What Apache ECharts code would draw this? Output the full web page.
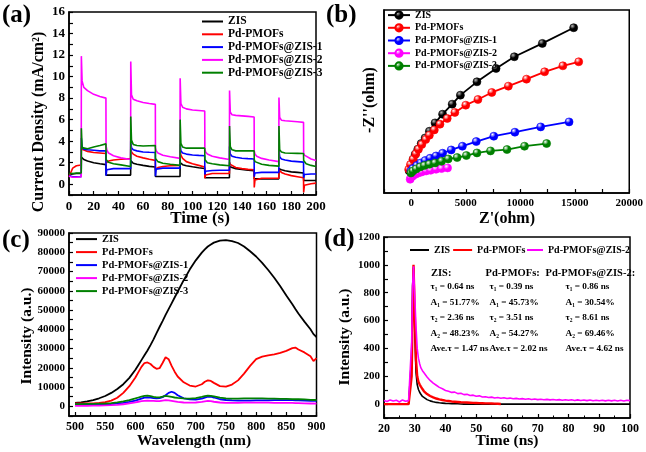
<!DOCTYPE html>
<html><head><meta charset="utf-8">
<script src="https://cdn.jsdelivr.net/npm/echarts@6/dist/echarts.min.js"></script>
<style>html,body{margin:0;padding:0;background:#fff}#c{width:646px;height:452px}</style>
</head><body><div id="c"></div>
<script>
// ---------- Panel (a): transient photocurrent ----------
const aTime = [0,3,6,9.9, 10,10.6,12,15,20,25,29.9, 30,30.6,32,36,42,49.9, 50,50.6,52,55,60,65,69.9, 70,70.6,72,76,82,89.9, 90,90.6,92,95,100,105,109.9, 110,110.6,112,116,122,129.9, 130,130.6,132,135,140,145,149.9, 150,150.6,152,156,162,169.9, 170,170.6,172,175,180,185,189.9, 190,190.6,192,196,200];
const aZIS = [0.9,0.95,1.0,1.0, 2.52,2.4,2.3,2.15,2.0,1.9,1.82, 0.85,0.85,0.85,0.85,0.85,0.85, 2.2,2.05,1.95,1.85,1.75,1.66,1.6, 0.72,0.72,0.72,0.72,0.72,0.72, 2.0,1.9,1.82,1.72,1.62,1.53,1.46, 0.6,0.6,0.6,0.6,0.6,0.6, 1.65,1.6,1.55,1.45,1.38,1.3,1.25, 0.5,0.5,0.5,0.5,0.5,0.5, 1.45,1.4,1.35,1.25,1.15,1.1,1.05, 0.35,0.35,0.35,0.35,0.35];
const aPd = [0.7,1.5,1.72,1.78, 3.5,3.25,3.15,3.05,2.95,2.9,2.85, 1.95,2.05,2.15,2.25,2.32,2.38, 3.3,3.0,2.8,2.6,2.45,2.32,2.22, 1.35,1.45,1.55,1.65,1.72,1.75, 3.1,2.7,2.4,2.1,1.9,1.75,1.6, 0.55,0.85,0.95,1.0,1.0,1.0, 2.05,1.85,1.7,1.55,1.45,1.38,1.35, -0.3,0.4,0.5,0.55,0.55,0.55, 1.35,1.2,1.1,0.95,0.8,0.7,0.6, -0.75,-0.1,0.0,0.05,0.1];
const aZ1 = [0.8,0.7,0.7,0.7, 4.3,3.5,3.25,3.2,3.15,3.1,3.1, 0.8,1.35,1.42,1.45,1.45,1.45, 4.0,3.4,3.2,3.1,3.0,2.97,2.95, 0.75,1.4,1.45,1.5,1.5,1.5, 3.7,3.1,2.9,2.8,2.72,2.68,2.65, 0.9,1.2,1.25,1.28,1.3,1.3, 3.5,2.8,2.6,2.5,2.42,2.38,2.35, 0.7,1.05,1.1,1.1,1.1,1.1, 3.3,2.55,2.35,2.25,2.15,2.1,2.05, 0.6,0.9,0.95,0.95,0.95];
const aZ2 = [0.75,0.65,0.65,0.7, 11.9,9.6,9.0,8.7,8.35,8.15,8.0, 3.6,3.2,2.9,2.65,2.45,2.3, 11.4,8.3,7.9,7.75,7.6,7.5,7.42, 3.4,3.1,2.9,2.7,2.55,2.4, 9.85,7.5,7.15,7.0,6.9,6.85,6.8, 3.3,3.0,2.8,2.6,2.45,2.3, 8.7,6.7,6.45,6.4,6.35,6.3,6.25, 3.1,2.8,2.6,2.4,2.25,2.1, 8.05,6.2,5.95,5.9,5.85,5.8,5.75, 2.9,2.7,2.55,2.35,2.2];
const aZ3 = [1.0,1.0,1.05,1.05, 5.2,3.4,3.25,3.3,3.45,3.6,3.75, 2.3,2.2,2.05,1.9,1.8,1.65, 6.3,4.1,3.7,3.6,3.55,3.58,3.6, 2.4,2.25,2.1,1.95,1.85,1.75, 6.0,3.8,3.45,3.35,3.35,3.35,3.35, 2.3,2.15,2.0,1.9,1.8,1.72, 5.4,3.5,3.2,3.1,3.1,3.1,3.1, 2.3,2.1,1.95,1.85,1.75,1.68, 5.4,3.2,3.0,2.9,2.88,2.87,2.85, 2.2,2.05,1.9,1.75,1.65];

// ---------- Panel (b): Nyquist plots ----------
const bZisX = [-200,0,173,364,600,909,1273,1664,2182,2873,3755,4509,6027,7782,9455,12027,14900];
const bZisY = [1950,2513,2950,3390,3826,4325,4816,5400,6130,6890,7767,8555,9720,10890,11910,13080,14450];
const bPdX = [-230,-70,173,420,660,970,1330,1664,2118,2636,3300,4000,5000,6118,7391,8909,10573,12236,13909,15364];
const bPdY = [2075,2487,2950,3415,3826,4238,4676,5050,5517,6015,6515,7040,7680,8175,8790,9343,9956,10595,11120,11470];
const bZ1X = [-36,145,509,873,1273,1727,2273,2873,3664,4691,5964,7573,9509,11873,14480];
const bZ1Y = [1926,2136,2400,2627,2837,3039,3240,3476,3765,4090,4500,4965,5315,5780,6217];
const bZ2X = [-100,-36,145,391,664,964,1364,1782,2273,2782,3330];
const bZ2Y = [1200,1349,1489,1637,1751,1840,1926,1988,2075,2136,2190];
const bZ3X = [-27,155,455,818,1209,1664,2182,2782,3391,4209,5055,6027,7273,8782,10391,12418];
const bZ3Y = [1751,1926,2102,2277,2400,2513,2627,2776,2977,3100,3275,3503,3678,3800,4090,4326];

// ---------- Panel (c): PL spectra ----------
const cWl = [500,510,520,530,540,550,560,570,580,590,600,605,610,615,620,625,630,635,640,645,650,655,660,665,670,680,690,700,710,715,720,725,730,740,750,760,770,780,790,800,810,820,830,840,850,860,865,870,880,890,895,900];
const cZIS = [1800,2100,2600,3300,4200,5400,7000,9000,11500,14800,19000,21500,24000,26500,29000,31800,34800,38000,41200,44300,47500,50500,53500,56500,59500,65500,71000,75800,79800,81500,83000,84000,85000,86000,86300,85800,84800,83000,80500,77800,74500,70800,66800,62300,57500,53000,50500,48200,44000,40000,37500,36000];
const cPd = [1500,1500,1500,1600,1800,2200,3000,4500,7000,10500,15000,17800,20500,22500,22800,22000,20500,19500,19800,22500,25500,24500,21000,18000,15500,12500,10800,10300,11500,12800,13500,13200,12200,10500,10200,11300,13500,17000,21000,24500,25800,26500,27000,27800,28800,30200,30500,29500,28000,26000,23500,25000];
const cZ1 = [1000,1000,1000,1000,1000,1100,1200,1500,1800,2300,3000,3500,4000,4500,4700,4500,4300,4200,4300,4800,5800,7000,7600,7000,5800,4200,3600,3500,4000,4500,5000,5000,4600,3700,3300,3100,3000,3000,3000,3100,3100,3100,3200,3200,3200,3200,3100,3100,3000,2900,2800,2800];
const cZ2 = [300,300,300,350,400,500,600,800,1100,1600,2100,2400,2700,2900,3000,2900,2800,2700,2700,3000,3200,3100,2900,2600,2300,2000,1900,2000,2300,2600,2800,2700,2400,2000,1800,1800,1800,1900,1900,1900,1900,1900,1800,1800,1800,1800,1700,1700,1600,1500,1500,1400];
const cZ3 = [1200,1200,1300,1300,1400,1500,1700,2100,2600,3300,4100,4600,5100,5500,5600,5300,4900,4700,4700,5000,5400,5200,4900,4600,4400,4100,4000,4300,4900,5300,5600,5500,5200,4500,4100,4000,4000,4100,4200,4200,4100,4000,4000,3900,3900,3800,3700,3700,3600,3400,3300,3300];

// ---------- Panel (d): TRPL decay ----------
const dTime = [20,21,22,23,24,25,26,27,28,28.5,29,29.3,29.6,30,30.4,30.8,31.2,31.6,32,32.5,33,34,35,36,37,38,39,40,41,42,43,44,45,46,47,48,49,50,51,52,53,54,55,56,57,58,59,60,61,62,63,64,65,66,67,68,69,70,71,72,73,74,75,76,77,78,79,80,81,82,83,84,85,86,87,88,89,90,91,92,93,94,95,96,97,98,99,100];
const dZIS = [0,0,0,0,0,0,0,0,0,0,350,850,980,520,230,140,105,85,70,55,45,32,23,17,12,9,7,5,4,3,2,2,1,0,0,0,0,0,0,0,0,0,0,0,0,0,0,0,0,0,0,0,0,0,0,0,0,0,0,0,0,0,0,0,0,0,0,0,0,0,0,0,0,0,0,0,0,0,0,0,0,0,0,0,0,0,0,0];
const dPd = [0,0,0,0,0,0,0,0,0,0,200,650,1000,650,320,200,160,140,125,108,92,72,58,48,40,34,29,25,22,19,17,15,13,12,11,10,9,8,7,6,5,5,4,3,2,1,null,null,null,null,null,null,null,null,null,null,null,null,null,null,null,null,null,null,null,null,null,null,null,null,null,null,null,null,null,null,null,null,null,null,null,null,null,null,null,null,null,null];
const dZ2 = [25,18,30,22,28,15,30,20,25,30,450,850,990,780,560,400,330,290,260,240,225,195,170,150,135,120,110,98,92,84,86,75,78,68,70,62,64,56,59,51,53,47,50,44,47,42,45,40,43,38,41,36,39,35,38,33,36,32,35,31,34,30,33,29,32,28,31,27,31,26,30,26,29,25,29,24,28,24,28,23,27,23,27,22,27,22,28,25];
const dHeads = ['ZIS:','Pd-PMOFs:','Pd-PMOFs@ZIS-2:'];
const dTau1 = ['0.64','0.39','0.86'];
const dA1 = ['51.77','45.73','30.54'];
const dTau2 = ['2.36','3.51','8.61'];
const dA2 = ['48.23','54.27','69.46'];
const dAve = ['1.47','2.02','4.62'];

// ---------- build ----------
const FF = "'Liberation Serif','Times New Roman',serif";
const col = {ZIS:'#000000', Pd:'#ff0000', Z1:'#0000ff', Z2:'#ff00ff', Z3:'#008000'};
const names = ['ZIS','Pd-PMOFs','Pd-PMOFs@ZIS-1','Pd-PMOFs@ZIS-2','Pd-PMOFs@ZIS-3'];
const keys = ['ZIS','Pd','Z1','Z2','Z3'];
const pairs = (xs, ys) => xs.map((x,i) => [x, ys[i]]);

function axis(o){
  return Object.assign({
    type:'value',
    axisLine:{show:true, onZero:false, lineStyle:{color:'#000', width:1.5}},
    axisTick:{show:true, inside:true, length:4, lineStyle:{color:'#000', width:1.2}},
    axisLabel:{color:'#000', fontFamily:FF, fontWeight:'bold', fontSize:12, margin:5},
    splitLine:{show:false}
  }, o);
}
const fmt = (step) => (v) => (v >= 0 && Math.abs(v % step) < 1e-9) ? String(v) : '';

const grids = [
  {left:69, top:12, width:247, height:183},
  {left:384, top:10, width:247, height:183},
  {left:69, top:233, width:247.5, height:183},
  {left:384, top:237, width:246, height:181}
].map(g => Object.assign(g, {show:true, borderColor:'#000', borderWidth:1.5, backgroundColor:'transparent'}));

const xAxes = [
  axis({gridIndex:0, min:0, max:200, interval:20, minorTick:{show:true, splitNumber:2, length:2.5, lineStyle:{color:'#000'}}, axisLabel:{color:'#000', fontFamily:FF, fontWeight:'bold', fontSize:13, margin:5}}),
  axis({gridIndex:1, min:-2500, max:20000, interval:2500, axisLabel:{color:'#000', fontFamily:FF, fontWeight:'bold', fontSize:11, margin:5, formatter: fmt(5000)}}),
  axis({gridIndex:2, min:490, max:900,
        axisTick:{show:true, inside:true, length:4, customValues:[500,525,550,575,600,625,650,675,700,725,750,775,800,825,850,875,900], lineStyle:{color:'#000', width:1.2}},
        axisLabel:{color:'#000', fontFamily:FF, fontWeight:'bold', fontSize:12, margin:5, customValues:[500,550,600,650,700,750,800,850,900]}}),
  axis({gridIndex:3, min:20, max:100, interval:10, minorTick:{show:true, splitNumber:2, length:2.5, lineStyle:{color:'#000'}}, axisLabel:{color:'#000', fontFamily:FF, fontWeight:'bold', fontSize:12, margin:5}})
];
const yAxes = [
  axis({gridIndex:0, min:-1, max:16, interval:1, axisLabel:{color:'#000', fontFamily:FF, fontWeight:'bold', fontSize:13, margin:4, formatter: fmt(2)}}),
  axis({gridIndex:1, min:0, max:16000, axisTick:{show:false}, axisLabel:{show:false}}),
  axis({gridIndex:2, min:-5000, max:90000, interval:5000, axisLabel:{color:'#000', fontFamily:FF, fontWeight:'bold', fontSize:11, margin:4, formatter: fmt(10000)}}),
  axis({gridIndex:3, min:-100, max:1200, interval:100, axisLabel:{color:'#000', fontFamily:FF, fontWeight:'bold', fontSize:11, margin:4, formatter: fmt(200)}})
];

function lineS(id, name, k, data, gi, w){
  return {id:id+name, name:id+'|'+name, type:'line', xAxisIndex:gi, yAxisIndex:gi, data:data,
    showSymbol:false, symbol:'none', connectNulls:false, animation:false,
    lineStyle:{color:col[k], width:w}, itemStyle:{color:col[k]}};
}
function ball(c){
  const dark = c === '#000000' ? '#000' : c;
  const hi = c === '#000000' ? '#bbbbbb' : '#ffffff';
  return {type:'radial', x:0.35, y:0.3, r:0.75, colorStops:[{offset:0,color:hi},{offset:0.45,color:c},{offset:1,color:dark}]};
}
function symS(name, k, data){
  return {id:'b'+name, name:'b|'+name, type:'line', xAxisIndex:1, yAxisIndex:1, data:data,
    symbol:'circle', symbolSize:8, showSymbol:true, animation:false,
    lineStyle:{color:col[k], width:1.8}, itemStyle:{color:ball(col[k]), borderColor:col[k], borderWidth:0.6}};
}

const aVals = [aZIS,aPd,aZ1,aZ2,aZ3];
const bX = [bZisX,bPdX,bZ1X,bZ2X,bZ3X], bY = [bZisY,bPdY,bZ1Y,bZ2Y,bZ3Y];
const cVals = [cZIS,cPd,cZ1,cZ2,cZ3];
const series = [];
names.forEach((n,i) => series.push(lineS('a', n, keys[i], pairs(aTime, aVals[i]), 0, 1.6)));
names.forEach((n,i) => series.push(symS(n, keys[i], pairs(bX[i], bY[i]))));
names.forEach((n,i) => series.push(lineS('c', n, keys[i], pairs(cWl, cVals[i]), 2, 1.8)));
series.push(lineS('d', 'ZIS', 'ZIS', pairs(dTime, dZIS), 3, 1.6));
series.push(lineS('d', 'Pd-PMOFs', 'Pd', pairs(dTime, dPd), 3, 2.4));
series.push(lineS('d', 'Pd-PMOFs@ZIS-2', 'Z2', pairs(dTime, dZ2), 3, 1.6));

const legFmt = (n) => n.split('|')[1];
const legText = (fs, lh) => ({fontFamily:FF, fontWeight:'bold', fontSize:fs, color:'#000', lineHeight:lh});
const dLeg = (left, w, data) => ({left:left, top:244, padding:0, orient:'horizontal', icon:'rect', itemWidth:w, itemHeight:2, itemGap:3, selectedMode:false, formatter:legFmt, textStyle:legText(10,12), data:data});
const legends = [
  {left:202, top:15.5, padding:0, orient:'vertical', icon:'rect', itemWidth:21, itemHeight:2, itemGap:0.8, selectedMode:false, formatter:legFmt, textStyle:legText(11.5,12), data:names.map(n=>'a|'+n)},
  {left:387, top:9.5, padding:0, orient:'vertical', itemWidth:22, itemHeight:9, itemGap:1.5, selectedMode:false, formatter:legFmt, textStyle:legText(10,11.2), data:names.map(n=>'b|'+n)},
  {left:76, top:233, padding:0, orient:'vertical', icon:'rect', itemWidth:21, itemHeight:2, itemGap:0.8, selectedMode:false, formatter:legFmt, textStyle:legText(10.5,12.2), data:names.map(n=>'c|'+n)},
  dLeg(410, 19, ['d|ZIS','d|Pd-PMOFs']),
  dLeg(527, 16, ['d|Pd-PMOFs@ZIS-2'])
];

function txt(s, x, y, size, opts){
  opts = opts || {};
  return {type:'text', x:x, y:y, rotation:opts.rot||0, silent:true,
    style:{text:s, font:'bold '+size+'px '+FF, fill:'#000', align:opts.align||'center', verticalAlign:'middle'}};
}
const graphics = [
  txt('(a)', 2, 16, 25, {align:'left'}),
  txt('(b)', 326, 16, 25, {align:'left'}),
  txt('(c)', 2, 241, 25, {align:'left'}),
  txt('(d)', 324, 240, 25, {align:'left'}),
  txt('Time (s)', 200, 219, 17),
  txt('Current Density (mA/cm²)', 39, 122, 16, {rot:Math.PI/2}),
  txt("Z'(ohm)", 507, 219, 16),
  txt("-Z''(ohm)", 370, 100, 16, {rot:Math.PI/2}),
  txt('Wavelength (nm)', 194, 441, 15.5),
  txt('Intensity (a.u.)', 27, 336, 15.5, {rot:Math.PI/2}),
  txt('Time (ns)', 507, 441, 15.5),
  txt('Intensity (a.u.)', 345, 337, 15.5, {rot:Math.PI/2})
];
const headX = [431, 485.5, 545.5], valX = [430.5, 489.5, 565.5];
const rowY = [273.5, 287, 302.5, 318, 333.5, 349];
for (let i=0;i<3;i++){
  graphics.push(txt(dHeads[i], headX[i], rowY[0], 10.5, {align:'left'}));
  graphics.push(txt('τ₁ = '+dTau1[i]+' ns', valX[i], rowY[1], 9.2, {align:'left'}));
  graphics.push(txt('A₁ = '+dA1[i]+'%', valX[i], rowY[2], 9.2, {align:'left'}));
  graphics.push(txt('τ₂ = '+dTau2[i]+' ns', valX[i], rowY[3], 9.2, {align:'left'}));
  graphics.push(txt('A₂ = '+dA2[i]+'%', valX[i], rowY[4], 9.2, {align:'left'}));
  graphics.push(txt('Ave.τ = '+dAve[i]+' ns', valX[i], rowY[5], 9.2, {align:'left'}));
}

const chart = echarts.init(document.getElementById('c'), null, {renderer:'canvas'});
chart.setOption({
  animation:false,
  backgroundColor:'#ffffff',
  grid:grids, xAxis:xAxes, yAxis:yAxes, series:series, legend:legends, graphic:graphics
});
</script></body></html>
